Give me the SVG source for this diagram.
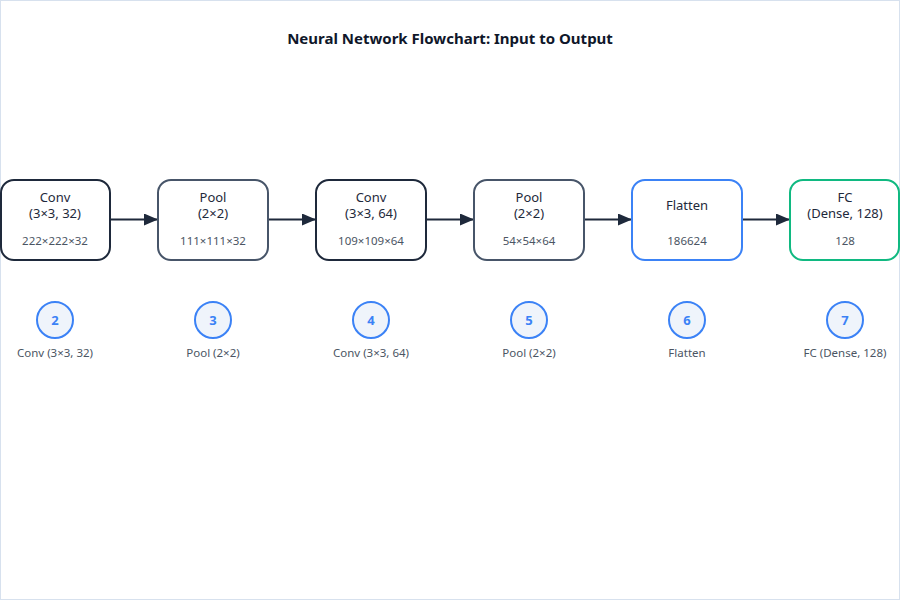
<svg xmlns="http://www.w3.org/2000/svg" width="900" height="600" viewBox="0 0 900 600">
<style>
text { font-family: "Noto Sans", "Open Sans", "Liberation Sans", sans-serif; text-anchor: middle; }
.title { font-size: 15px; font-weight: bold; fill: #0f172a; }
.box { fill: #ffffff; stroke-width: 2; }
.conv { stroke: #1e293b; }
.pool { stroke: #475569; }
.flat { stroke: #3b82f6; }
.fc { stroke: #10b981; }
.name { font-size: 13px; fill: #1e293b; }
.dim { font-size: 11.5px; fill: #4b5563; }
.edge { stroke: #1e293b; stroke-width: 2; fill: none; marker-end: url(#arr); }
.badge { fill: #eff4fb; stroke: #3b82f6; stroke-width: 2; }
.num { font-size: 13px; font-weight: bold; fill: #3b82f6; }
.lbl { font-size: 11.5px; fill: #4b5563; }
</style>
<defs>
<marker id="arr" viewBox="0 0 14 12" refX="14" refY="6" markerWidth="14" markerHeight="12" markerUnits="userSpaceOnUse" orient="auto">
<path d="M0,0 L14,6 L0,12 Z" fill="#1e293b"/>
</marker>
</defs>
<rect x="0.5" y="0.5" width="899" height="599" fill="#ffffff" stroke="#d7e1ee"/>
<text class="title" x="450" y="44">Neural Network Flowchart: Input to Output</text>
<g id="connectors">
<line class="edge" x1="110" y1="219.5" x2="158" y2="219.5"/>
<line class="edge" x1="268" y1="219.5" x2="316" y2="219.5"/>
<line class="edge" x1="426" y1="219.5" x2="474" y2="219.5"/>
<line class="edge" x1="584" y1="219.5" x2="632" y2="219.5"/>
<line class="edge" x1="742" y1="219.5" x2="790" y2="219.5"/>
</g>
<g id="node-conv1">
<rect class="box conv" x="1" y="180" width="109" height="80" rx="13"/>
<text class="name" x="55" y="202">Conv<tspan x="55" dy="16">(3×3, 32)</tspan></text>
<text class="dim" x="55" y="245">222×222×32</text>
</g>
<g id="node-pool1">
<rect class="box pool" x="158" y="180" width="110" height="80" rx="13"/>
<text class="name" x="213" y="202">Pool<tspan x="213" dy="16">(2×2)</tspan></text>
<text class="dim" x="213" y="245">111×111×32</text>
</g>
<g id="node-conv2">
<rect class="box conv" x="316" y="180" width="110" height="80" rx="13"/>
<text class="name" x="371" y="202">Conv<tspan x="371" dy="16">(3×3, 64)</tspan></text>
<text class="dim" x="371" y="245">109×109×64</text>
</g>
<g id="node-pool2">
<rect class="box pool" x="474" y="180" width="110" height="80" rx="13"/>
<text class="name" x="529" y="202">Pool<tspan x="529" dy="16">(2×2)</tspan></text>
<text class="dim" x="529" y="245">54×54×64</text>
</g>
<g id="node-flatten">
<rect class="box flat" x="632" y="180" width="110" height="80" rx="13"/>
<text class="name" x="687" y="210">Flatten</text>
<text class="dim" x="687" y="245">186624</text>
</g>
<g id="node-fc">
<rect class="box fc" x="790" y="180" width="109" height="80" rx="13"/>
<text class="name" x="845" y="202">FC<tspan x="845" dy="16">(Dense, 128)</tspan></text>
<text class="dim" x="845" y="245">128</text>
</g>
<g id="badge-2">
<circle class="badge" cx="55" cy="320" r="18"/>
<text class="num" x="55" y="325">2</text>
<text class="lbl" x="55" y="357">Conv (3×3, 32)</text>
</g>
<g id="badge-3">
<circle class="badge" cx="213" cy="320" r="18"/>
<text class="num" x="213" y="325">3</text>
<text class="lbl" x="213" y="357">Pool (2×2)</text>
</g>
<g id="badge-4">
<circle class="badge" cx="371" cy="320" r="18"/>
<text class="num" x="371" y="325">4</text>
<text class="lbl" x="371" y="357">Conv (3×3, 64)</text>
</g>
<g id="badge-5">
<circle class="badge" cx="529" cy="320" r="18"/>
<text class="num" x="529" y="325">5</text>
<text class="lbl" x="529" y="357">Pool (2×2)</text>
</g>
<g id="badge-6">
<circle class="badge" cx="687" cy="320" r="18"/>
<text class="num" x="687" y="325">6</text>
<text class="lbl" x="687" y="357">Flatten</text>
</g>
<g id="badge-7">
<circle class="badge" cx="845" cy="320" r="18"/>
<text class="num" x="845" y="325">7</text>
<text class="lbl" x="845" y="357">FC (Dense, 128)</text>
</g>
</svg>
